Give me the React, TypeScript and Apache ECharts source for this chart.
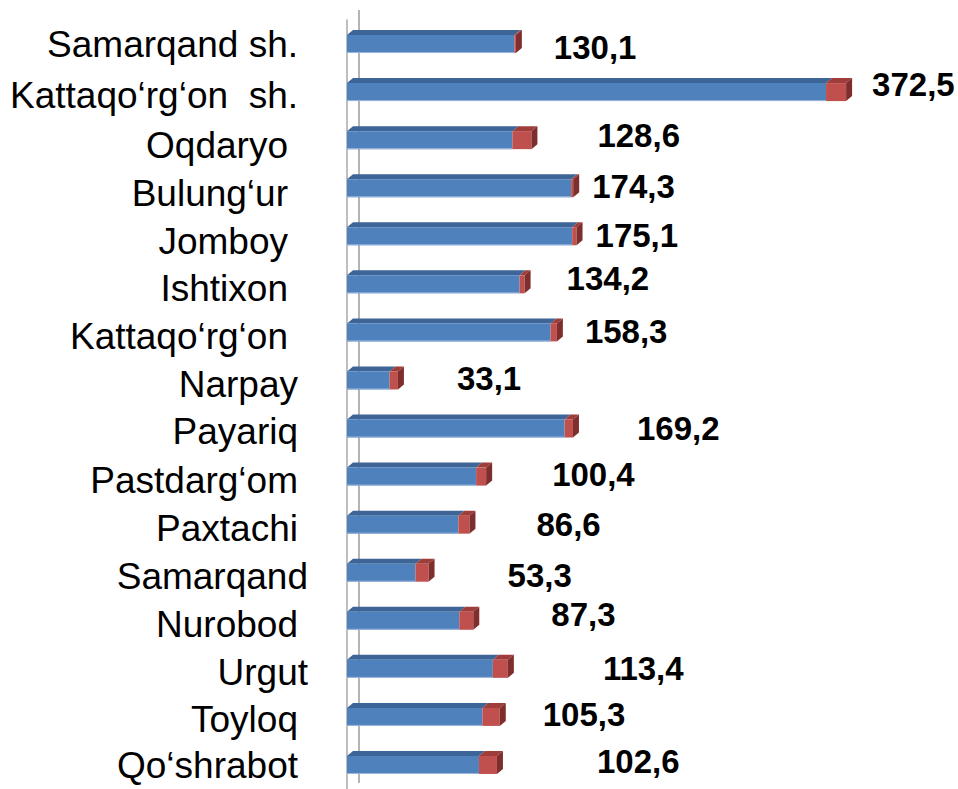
import React, { useEffect, useRef } from "react";
import * as echarts from "echarts";

const categories = [
  "Samarqand sh.",
  "Kattaqo‘rg‘on  sh.",
  "Oqdaryo",
  "Bulung‘ur",
  "Jomboy",
  "Ishtixon",
  "Kattaqo‘rg‘on",
  "Narpay",
  "Payariq",
  "Pastdarg‘om",
  "Paxtachi",
  "Samarqand",
  "Nurobod",
  "Urgut",
  "Toyloq",
  "Qo‘shrabot",
];

const mainValues = [130.1, 372.5, 128.6, 174.3, 175.1, 134.2, 158.3, 33.1, 169.2, 100.4, 86.6, 53.3, 87.3, 113.4, 105.3, 102.6];
const extraValues = [1.2, 15.6, 14.8, 1.6, 3.4, 3.9, 4.9, 6.5, 6.5, 7.8, 8.6, 10.1, 10.9, 11.7, 13.5, 14.0];

// styling: label offsets [dx, dy] from the bar end, trailing spaces / vertical nudges on category labels
const labelOffsets = [
  [38, 3], [26, -8], [66, -5], [19, -2], [19, -1], [42, -6], [28, -1], [59, -2],
  [64, 0], [66, -2], [67, 0], [79, 3], [78, -6], [95, 0], [43, -2], [100, -3],
];
const labelPadSpaces = [1, 1, 2, 2, 2, 2, 2, 1, 1, 1, 1, 0, 1, 0, 1, 1];
const labelNudgeY = [0, 3, 5, 5, 5, 4, 4, 4, 3, 4, 4, 4, 4, 4, 3, 1];

const FONT = '"Liberation Sans", Arial, Helvetica, sans-serif';

export default function App() {
  const ref = useRef<HTMLDivElement>(null);

  useEffect(() => {
    if (!ref.current) return;
    const chart = echarts.init(ref.current, null, { renderer: "svg" });

    const rich: Record<string, any> = {};
    labelPadSpaces.forEach((n, i) => {
      rich["r" + i] = {
        fontSize: 37,
        fontFamily: FONT,
        color: "#000",
        padding: [labelNudgeY[i] * 2, n * 10, 0, 0],
      };
    });

    const data = categories.map((_, i) => [i, mainValues[i], extraValues[i]]);

    const renderItem = (params: any, api: any) => {
      const i = api.value(0);
      const b = api.value(1);
      const r = api.value(2);
      const p0 = api.coord([0, i]);
      const p1 = api.coord([b, i]);
      const p2 = api.coord([b + r, i]);
      const h = 18;
      const dx = 6;
      const dy = 5;
      const yc = p0[1];
      const yt = yc - h / 2;
      const yb = yc + h / 2;
      const x0 = p0[0];
      const x1 = p1[0];
      const x2 = p2[0];
      const off = labelOffsets[i] || [20, 0];
      const label = mainValues[i].toFixed(1).replace(".", ",");
      return {
        type: "group",
        children: [
          {
            type: "polygon",
            shape: { points: [[x0, yt], [x1, yt], [x1 + dx, yt - dy], [x0 + dx, yt - dy]] },
            style: { fill: "#3d6597" },
          },
          {
            type: "rect",
            shape: { x: x0, y: yt, width: x1 - x0, height: h },
            style: { fill: "#4f81bd" },
          },
          {
            type: "line",
            shape: { x1: x0, y1: yb - 0.5, x2: x1, y2: yb - 0.5 },
            style: { stroke: "#9db8de", lineWidth: 1 },
          },
          {
            type: "polygon",
            shape: { points: [[x1, yt], [x2, yt], [x2 + dx, yt - dy], [x1 + dx, yt - dy]] },
            style: { fill: "#9e3d3a" },
          },
          {
            type: "rect",
            shape: { x: x1, y: yt, width: x2 - x1, height: h },
            style: { fill: "#c0504d" },
          },
          {
            type: "polygon",
            shape: { points: [[x2, yt], [x2 + dx, yt - dy], [x2 + dx, yb - dy], [x2, yb]] },
            style: { fill: "#7e2e2c" },
          },
          {
            type: "text",
            style: {
              text: label,
              x: x2 + off[0],
              y: yc + off[1],
              fill: "#000",
              fontSize: 33,
              fontWeight: "bold",
              fontFamily: FONT,
              align: "left",
              verticalAlign: "middle",
            },
          },
        ],
      };
    };

    chart.setOption({
      animation: false,
      backgroundColor: "#ffffff",
      grid: { left: 347, top: 20, width: 514.4, height: 771.2, containLabel: false },
      xAxis: {
        type: "value",
        min: 0,
        max: 400,
        show: false,
      },
      yAxis: {
        type: "category",
        inverse: true,
        data: categories,
        offset: 5,
        axisTick: { show: false },
        axisLine: { show: true, lineStyle: { color: "#a8a8a8", width: 1.5 } },
        splitLine: { show: false },
        axisLabel: {
          margin: 34,
          formatter: (value: string, idx: number) => `{r${idx}|${value}}`,
          rich,
        },
      },
      graphic: [
        {
          type: "line",
          z: 0,
          shape: { x1: 359, y1: 10, x2: 359, y2: 783 },
          style: { stroke: "#b4b4b4", lineWidth: 2 },
        },
      ],
      series: [
        {
          type: "custom",
          renderItem,
          encode: { x: [1, 2], y: 0 },
          data,
          z: 5,
        },
      ],
    });

    return () => chart.dispose();
  }, []);

  return (
    <div
      ref={ref}
      style={{ position: "absolute", left: 0, top: 0, width: 958, height: 789, background: "#fff" }}
    />
  );
}
